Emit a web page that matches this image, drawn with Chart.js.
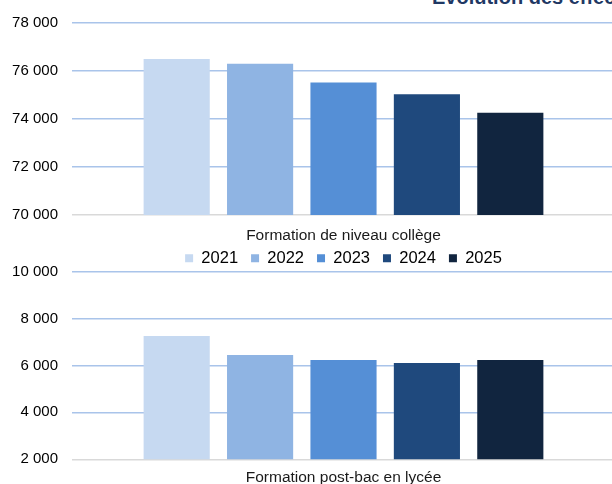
<!DOCTYPE html>
<html>
<head>
<meta charset="utf-8">
<script src="https://cdn.jsdelivr.net/npm/chart.js@4"></script>
<style>
  html, body { margin: 0; padding: 0; background: #fff; overflow: hidden; width: 612px; height: 484px; }
  #titre { position: absolute; left: 432px; top: -13px; font: bold 20px "Liberation Sans", Arial, sans-serif; line-height: 20px; color: #1F3864; white-space: nowrap; }
  .bloc { position: absolute; left: 0; width: 615px; }
  #bloc1 { top: 0; height: 246px; }
  #bloc2 { top: 237px; height: 247px; }
</style>
</head>
<body>
<div id="titre">Évolution des effectifs</div>
<div class="bloc" id="bloc1"><canvas id="chartCollege"></canvas></div>
<div class="bloc" id="bloc2"><canvas id="chartPostBac"></canvas></div>
<script>
const annees = ['2021', '2022', '2023', '2024', '2025'];
const couleurs = ['#C6D9F1', '#8FB4E3', '#558FD6', '#1F497D', '#11253F'];

const categorieCollege = ['Formation de niveau collège'];
const effectifsCollege = [76500, 76300, 75520, 75030, 74260];
const ticksCollege = { min: 70000, max: 78000, pas: 2000 };

const categoriePostBac = ['Formation post-bac en lycée'];
const effectifsPostBac = [7250, 6440, 6230, 6100, 6230];
const ticksPostBac = { min: 2000, max: 10000, pas: 2000 };

(()=>{
    const police = '"Liberation Sans", Arial, sans-serif';
    Chart.defaults.font.family = police;

    const formatNombre = (v) => String(v).replace(/\B(?=(\d{3})+(?!\d))/g, ' ');

    // un graphique par bloc, la legende est portee par le second (en haut)
    const creerGraphique = (idCanvas, labels, valeurs, axe, cfg) => {
        const ctx = document.getElementById(idCanvas).getContext('2d');
        return new Chart(ctx, {
            type: 'bar',
            data: {
                labels: labels,
                datasets: annees.map((annee, i) => ({
                    label: annee,
                    data: [valeurs[i]],
                    backgroundColor: couleurs[i],
                    borderWidth: 0,
                    categoryPercentage: 0.768,
                    barPercentage: 0.793
                }))
            },
            options: {
                responsive: true,
                maintainAspectRatio: false,
                animation: false,
                layout: { padding: { top: cfg.padTop, right: 0, bottom: 0, left: 0 } },
                plugins: {
                    legend: {
                        display: cfg.legende,
                        position: 'top',
                        fullSize: false,
                        maxHeight: 34.5,
                        labels: {
                            boxWidth: 8,
                            boxHeight: 8,
                            padding: 13,
                            color: '#000',
                            font: { size: 16.5 }
                        }
                    },
                    tooltip: { enabled: false }
                },
                scales: {
                    x: {
                        afterFit: (scale) => { scale.height = cfg.hauteurX; },
                        grid: { display: false, drawTicks: false },
                        border: { display: false },
                        ticks: { color: '#1a1a1a', font: { size: 15.5 }, padding: cfg.padX }
                    },
                    y: {
                        min: axe.min,
                        max: axe.max,
                        afterFit: (scale) => { scale.width = 72; },
                        grid: {
                            drawTicks: false,
                            lineWidth: 1.5,
                            color: (c) => c.index === 0 ? '#D9D9D9' : '#A9C4EA'
                        },
                        border: { display: false },
                        ticks: {
                            stepSize: axe.pas,
                            padding: 14,
                            color: '#000',
                            font: { size: 15 },
                            callback: (v) => formatNombre(v)
                        }
                    }
                }
            }
        });
    };

    creerGraphique('chartCollege', categorieCollege, effectifsCollege, ticksCollege,
        { legende: false, padTop: 19, hauteurX: 31, padX: 11.5 });
    creerGraphique('chartPostBac', categoriePostBac, effectifsPostBac, ticksPostBac,
        { legende: true, padTop: 0, hauteurX: 24.7, padX: 9 });
})()
</script>
</body>
</html>
